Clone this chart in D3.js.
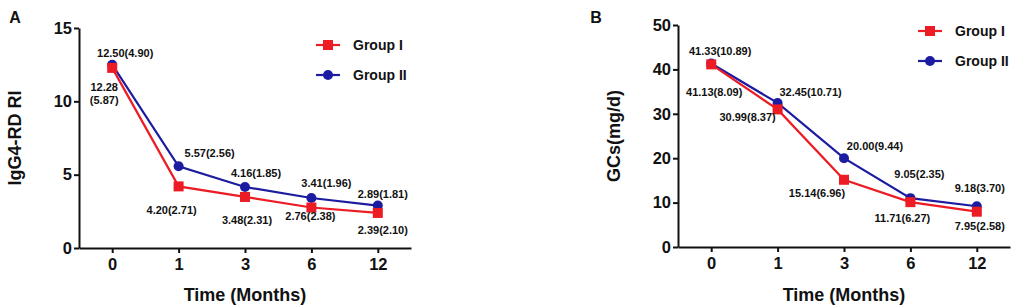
<!DOCTYPE html>
<html lang="en">
<head>
  <meta charset="UTF-8">
  <title>IgG4-RD RI and GCs over time</title>
  <script src="https://d3js.org/d3.v7.min.js"></script>
  <style>
    body { margin: 0; background: #fff; }
    svg { font-family: "Liberation Sans", Arial, sans-serif; font-weight: bold; }
  </style>
</head>
<body>
  <script>
    // shared categories
    const months = ["0", "1", "3", "6", "12"];
    const groups = ["Group I", "Group II"];

    // panel A: IgG4-RD RI
    const riGroup1 = [12.28, 4.20, 3.48, 2.76, 2.39];
    const riGroup2 = [12.50, 5.57, 4.16, 3.41, 2.89];
    const riLabels1 = ["12.28\n(5.87)", "4.20(2.71)", "3.48(2.31)", "2.76(2.38)", "2.39(2.10)"];
    const riLabels2 = ["12.50(4.90)", "5.57(2.56)", "4.16(1.85)", "3.41(1.96)", "2.89(1.81)"];
    const riTicks = [0, 5, 10, 15];

    // panel B: GCs (mg/d) -- month 6 points read from where they are drawn
    const gcGroup1 = [41.13, 30.99, 15.14, 10.1, 7.95];
    const gcGroup2 = [41.33, 32.45, 20.00, 11.0, 9.18];
    const gcLabels1 = ["41.13(8.09)", "30.99(8.37)", "15.14(6.96)", "11.71(6.27)", "7.95(2.58)"];
    const gcLabels2 = ["41.33(10.89)", "32.45(10.71)", "20.00(9.44)", "9.05(2.35)", "9.18(3.70)"];
    const gcTicks = [0, 10, 20, 30, 40, 50];

    const red = "#ec1c24", blue = "#1c1ca0";

    const svg = d3.select("body").append("svg")
      .attr("width", 1022)
      .attr("height", 307);

    function drawPanel(p) {
      const g = svg.append("g");
      const x = d3.scalePoint().domain(months).range([p.left, p.right]).padding(0.5);
      const y = d3.scaleLinear().domain([0, p.max]).range([p.bottom, p.top]);

      // axes
      const yAxis = g.append("g")
        .attr("transform", `translate(${p.left},0)`)
        .call(d3.axisLeft(y).tickValues(p.ticks).tickSize(5).tickSizeOuter(0).tickPadding(2));
      const xAxis = g.append("g")
        .attr("transform", `translate(0,${p.bottom})`)
        .call(d3.axisBottom(x).tickSize(5).tickSizeOuter(0).tickPadding(5));
      [xAxis, yAxis].forEach(a => {
        a.select(".domain").attr("stroke", "#111").attr("stroke-width", 2);
        a.selectAll(".tick line").attr("stroke", "#111").attr("stroke-width", 2);
        a.selectAll(".tick text").attr("fill", "#111")
          .attr("font-size", 16.5).attr("font-family", "Liberation Sans, Arial, sans-serif").attr("font-weight", "bold");
      });

      // titles
      g.append("text")
        .attr("x", (p.left + p.right) / 2).attr("y", 301)
        .attr("text-anchor", "middle").attr("font-size", 18).attr("fill", "#111")
        .text("Time (Months)");
      g.append("text")
        .attr("transform", `translate(${p.left - 64},${(p.top + p.bottom) / 2}) rotate(-90)`)
        .attr("text-anchor", "middle").attr("dy", "0.35em").attr("font-size", 18).attr("fill", "#111")
        .text(p.ylabel);
      g.append("text")
        .attr("x", p.letterX).attr("y", 17).attr("dy", "0.35em")
        .attr("text-anchor", "middle").attr("font-size", 16).attr("fill", "#111")
        .text(p.letter);

      const line = d3.line().x((d, i) => x(months[i])).y(d => y(d));

      // Group II (blue) first so red sits on top
      const series = [
        { name: groups[1], vals: p.g2, labels: p.l2, offs: p.o2, color: blue, shape: "circle" },
        { name: groups[0], vals: p.g1, labels: p.l1, offs: p.o1, color: red, shape: "square" }
      ];
      series.forEach(s => {
        g.append("path").datum(s.vals)
          .attr("fill", "none").attr("stroke", s.color).attr("stroke-width", 2.2)
          .attr("d", line);
        if (s.shape === "circle") {
          g.selectAll(null).data(s.vals).join("circle")
            .attr("cx", (d, i) => x(months[i])).attr("cy", d => y(d))
            .attr("r", 5).attr("fill", s.color);
        } else {
          g.selectAll(null).data(s.vals).join("rect")
            .attr("x", (d, i) => x(months[i]) - 5).attr("y", d => y(d) - 5)
            .attr("width", 10).attr("height", 10).attr("fill", s.color);
        }
      });

      // value labels
      series.forEach(s => {
        s.vals.forEach((v, i) => {
          const parts = s.labels[i].split("\n");
          const t = g.append("text")
            .attr("text-anchor", "middle").attr("font-size", 11).attr("fill", "#111");
          parts.forEach((part, k) => {
            t.append("tspan")
              .attr("x", x(months[i]) + s.offs[i][0])
              .attr("y", y(v) + s.offs[i][1] + k * 13)
              .attr("dy", "0.35em")
              .text(part);
          });
        });
      });

      // legend: Group I on top, Group II below
      const leg = g.append("g");
      series.slice().reverse().forEach((s, k) => {
        const ly = p.legY + k * 30;
        leg.append("line")
          .attr("x1", p.legX - 12).attr("x2", p.legX + 12)
          .attr("y1", ly).attr("y2", ly)
          .attr("stroke", s.color).attr("stroke-width", 2.2);
        if (s.shape === "circle") {
          leg.append("circle").attr("cx", p.legX).attr("cy", ly).attr("r", 5).attr("fill", s.color);
        } else {
          leg.append("rect").attr("x", p.legX - 5).attr("y", ly - 5)
            .attr("width", 10).attr("height", 10).attr("fill", s.color);
        }
        leg.append("text")
          .attr("x", p.legX + 25).attr("y", ly).attr("dy", "0.35em")
          .attr("font-size", 14).attr("fill", "#111")
          .text(s.name);
      });
    }

    drawPanel({
      letter: "A", letterX: 15, ylabel: "IgG4-RD RI",
      left: 79, right: 411, top: 28, bottom: 248, max: 15, ticks: riTicks,
      g1: riGroup1, g2: riGroup2, l1: riLabels1, l2: riLabels2,
      o1: [[-8, 19], [-7, 24], [2, 23], [-1, 8.5], [5, 17]],
      o2: [[13, -12], [31, -13], [11, -14], [15, -15], [5, -11]],
      legX: 328, legY: 45
    });

    drawPanel({
      letter: "B", letterX: 596, ylabel: "GCs(mg/d)",
      left: 678, right: 1010, top: 25, bottom: 247, max: 50, ticks: gcTicks,
      g1: gcGroup1, g2: gcGroup2, l1: gcLabels1, l2: gcLabels2,
      o1: [[3, 28], [-30, 8], [-27, 13], [-8, 16], [3, 14]],
      o2: [[9, -12], [33, -11], [31, -12], [9, -24], [3, -18]],
      legX: 930, legY: 31
    });
  </script>
</body>
</html>
